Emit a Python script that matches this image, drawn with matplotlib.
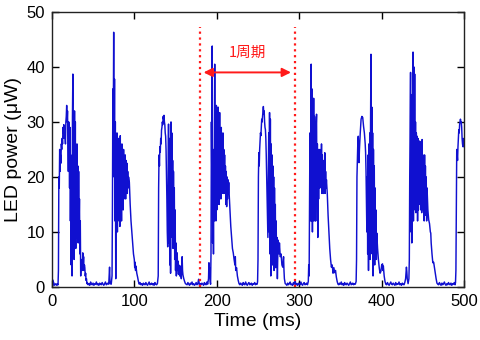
import numpy as np
import matplotlib
matplotlib.use("Agg")
import matplotlib.pyplot as plt

plt.rcParams["font.family"] = ["Liberation Sans", "DejaVu Sans"]

# trace: (time ms, LED power uW)
start_base = [(0, 1.6), (0.5, 0.4), (1, 1.3), (1.5, 0.5), (2, 0.9), (2.5, 0.3), (3, 0.5),
              (4, 0.4), (5, 0.6), (6, 0.3), (7, 0.5), (7.5, 0.4)]

burst1 = [(8, 3), (8.5, 20), (9, 18), (9.5, 25), (10, 21), (10.5, 24), (11, 22.5), (11.5, 26),
          (12, 25), (12.5, 27), (13, 26), (13.5, 29), (14, 28), (14.5, 29.5), (15, 27), (15.5, 28),
          (16, 27.5), (16.5, 26), (17, 30), (17.5, 31), (18, 33), (18.5, 30), (19, 32), (19.5, 26),
          (20, 21), (20.5, 30), (21, 27), (21.5, 18), (22, 29), (22.5, 12), (23, 24), (23.5, 4),
          (24, 20), (24.5, 2), (25, 31), (25.5, 38.7), (26, 14), (26.5, 30), (27, 5), (27.5, 32),
          (28, 12), (28.5, 30), (29, 7), (29.5, 24), (30, 9), (30.5, 26), (31, 14), (31.5, 22),
          (32, 8), (32.5, 21), (33, 11), (33.5, 16), (34, 6), (34.5, 12), (35, 2), (35.5, 5),
          (36, 3.5), (36.5, 4.5), (37, 3), (37.5, 6.2), (38, 4), (38.5, 5.5), (39, 3), (39.5, 4),
          (40, 3.5), (40.5, 2), (41, 2.5), (41.5, 1.2), (42, 1.5), (42.5, 0.6)]

gap1 = [(43, 0.8), (44, 0.4), (45, 0.6), (46, 0.3), (47, 0.9), (48, 0.5), (49, 0.4), (50, 0.7),
        (51, 0.3), (52, 0.6), (53, 0.5), (54, 0.9), (55, 0.4), (56, 0.6), (57, 0.3), (58, 0.7),
        (59, 0.5), (60, 0.4), (61, 0.8), (62, 0.5), (63, 0.3), (64, 0.6), (65, 0.9), (66, 0.4),
        (67, 0.5), (68, 0.7), (69, 0.5), (70, 3.6), (70.5, 1.0), (71, 0.6), (72, 0.5)]

burst2 = [(73, 2), (73.5, 15), (74, 36), (74.5, 28), (75, 46.3), (75.5, 20), (76, 37.8), (76.5, 12),
          (77, 30), (77.5, 1.5), (78, 27), (78.5, 14), (79, 28), (79.5, 10), (80, 26), (80.5, 13),
          (81, 27), (81.5, 12), (82, 25), (82.5, 11), (83, 27.5), (83.5, 13), (84, 24), (84.5, 12),
          (85, 26), (85.5, 15), (86, 23), (86.5, 14), (87, 25), (87.5, 16), (88, 22), (88.5, 17),
          (89, 24), (89.5, 16), (90, 23), (90.5, 18), (91, 22.5), (91.5, 17), (92, 21), (92.5, 18),
          (93, 20), (94, 19), (95, 15), (96, 12), (97, 10), (98, 8), (99, 6), (100, 5), (100.5, 3.5),
          (101, 4.5), (101.5, 3), (102, 3.8), (103, 2.5), (104, 1.8), (105, 1)]

gap2 = [(106, 0.5), (107, 0.8), (108, 0.4), (109, 0.6), (110, 0.3), (111, 0.7), (112, 0.5),
        (113, 0.4), (114, 0.8), (115, 0.5), (116, 0.3), (117, 0.6), (118, 0.9), (119, 0.4),
        (120, 0.5), (121, 0.7), (122, 0.4), (123, 0.6), (124, 0.3), (125, 0.8), (126, 0.5),
        (127, 0.4), (128, 0.6)]

burst3 = [(129, 2), (129.5, 18), (130, 24), (130.5, 22), (131, 25.5), (131.5, 24.5), (132, 27),
          (132.5, 26), (133, 28.5), (133.5, 29), (134, 30), (134.5, 29.5), (135, 31), (135.5, 30.5),
          (136, 31.2), (136.5, 30), (137, 29.5), (137.5, 28), (138, 27.4), (138.5, 25), (139, 21),
          (139.5, 16), (140, 10), (140.5, 7.3), (141, 20), (141.5, 29.6), (142, 8), (142.5, 27),
          (143, 4), (143.5, 22), (144, 2.5), (144.5, 30), (145, 12), (145.5, 28), (146, 9),
          (146.5, 23), (147, 7), (147.5, 21), (148, 11), (148.5, 18), (149, 5), (149.5, 14),
          (150, 3), (150.5, 8), (151, 2), (151.5, 5), (152, 6.2), (152.5, 3), (153, 4.7),
          (153.5, 2.3), (154, 4), (155, 2), (156, 3.8), (157, 1.5), (158, 5.5), (158.5, 3),
          (159, 2.2), (160, 1.5), (161, 1), (162, 0.6)]

gap3 = [(163, 0.5), (164, 0.4), (165, 0.8), (166, 0.5), (167, 0.3), (168, 0.7), (169, 0.5),
        (170, 0.9), (171, 0.4), (172, 0.6), (173, 0.3), (174, 0.5), (175, 0.8), (176, 0.4),
        (177, 0.6), (178, 1.4), (179, 0.3), (180, 0.6), (181, 0.4), (182, 0.7), (183, 0.5),
        (184, 0.3), (185, 0.8), (186, 0.5), (187, 0.4), (188, 0.9), (189, 0.5)]

burst4 = [(190, 1.5), (190.5, 4.4), (191, 2), (191.5, 3.5), (192, 1), (192.5, 0.5), (193, 6),
          (193.5, 30), (194, 20), (194.5, 43.8), (195, 8), (195.5, 20), (196, 6), (196.5, 25),
          (197, 12), (197.5, 40.5), (198, 15), (198.5, 30), (199, 12), (199.5, 33), (200, 14),
          (200.5, 30), (201, 15), (201.5, 32.7), (202, 16), (202.5, 29), (203, 15), (203.5, 31.7),
          (204, 17), (204.5, 28), (205, 16), (205.5, 29), (206, 17), (206.5, 27), (207, 18),
          (207.5, 28), (208, 17), (208.5, 25), (209, 18), (209.5, 24), (210, 17), (210.5, 22),
          (211, 15), (211.5, 21), (212, 14.6), (212.5, 20), (213, 16), (213.5, 19.5), (214, 17),
          (214.5, 19), (215, 17), (216, 14), (217, 11), (218, 9), (219, 7), (220, 6.2), (221, 5),
          (222, 4), (222.5, 5.5), (223, 3), (224, 3.5), (225, 2), (226, 1.2), (227, 0.6)]

gap4 = [(228, 0.4), (229, 0.7), (230, 0.5), (231, 0.3), (232, 0.8), (233, 0.5), (234, 0.4),
        (235, 0.9), (236, 0.5), (237, 0.3), (238, 0.6), (239, 0.8), (240, 0.4), (241, 0.5),
        (242, 0.7), (243, 0.3), (244, 0.6), (245, 0.5), (246, 0.8), (247, 0.4), (248, 0.6),
        (249, 0.5)]

burst5 = [(249.5, 1), (250, 5), (250.5, 20), (251, 24.4), (251.5, 22), (252, 25), (252.5, 26.5),
          (253, 28), (253.5, 27.5), (254, 29), (254.5, 30.5), (255, 30), (255.5, 31), (256, 32),
          (256.5, 32.8), (257, 31.5), (257.5, 32), (258, 30), (258.5, 29), (259, 28.6), (259.5, 27),
          (260, 24), (260.5, 20), (261, 15), (261.5, 12), (262, 9), (262.5, 20), (263, 28),
          (263.5, 10), (264, 31.7), (264.5, 6), (265, 30.5), (265.5, 2), (266, 26), (266.5, 8),
          (267, 24), (267.5, 4), (268, 22), (268.5, 10), (269, 20), (269.5, 3), (270, 18),
          (270.5, 8), (271, 15), (271.5, 3.5), (272, 12), (272.5, 6), (273, 9), (273.5, 1.5),
          (274, 6), (274.5, 8.5), (275, 7), (275.5, 6), (276, 8), (277, 5.5), (278, 6), (279, 4),
          (280, 3.6), (281, 5.5), (281.5, 3), (282, 1.5), (283, 0.6)]

gap5 = [(284, 0.5), (285, 0.3), (286, 0.7), (287, 0.4), (288, 0.6), (289, 0.9), (290, 0.4),
        (291, 0.5), (292, 0.3), (293, 0.8), (294, 0.5), (295, 1.2), (296, 0.4), (297, 0.6),
        (298, 0.3), (299, 0.7), (300, 0.5), (301, 0.4), (302, 0.9), (303, 0.5), (304, 0.3),
        (305, 0.6), (306, 0.8), (307, 0.4), (308, 0.5), (309, 0.7), (310, 0.4), (311, 1)]

burst6 = [(311.5, 4), (312, 2), (312.5, 15), (313, 28), (313.5, 12), (314, 30), (314.5, 40.5),
          (315, 12), (315.5, 36), (316, 10), (316.5, 28), (317, 12), (317.5, 34.3), (318, 13),
          (318.5, 31), (319, 12), (319.5, 30), (320, 12), (320.5, 29), (321, 31.4), (321.5, 15.3),
          (322, 26), (322.5, 9), (323, 25), (323.5, 16), (324, 24.4), (324.5, 18), (325, 25),
          (325.5, 19.5), (326, 24), (326.5, 18), (327, 26), (327.5, 17), (328, 24), (328.5, 19),
          (329, 23), (329.5, 17), (330, 22), (330.5, 18), (331, 24.4), (331.5, 17), (332, 21),
          (332.5, 18), (333, 19.5), (334, 17), (335, 13), (336, 10), (337, 7), (338, 5),
          (339, 3.6), (340, 4), (341, 2.5), (342, 3.5), (343, 2.6), (344, 3), (345, 1.8),
          (346, 1), (347, 0.5)]

gap6 = [(348, 0.4), (349, 0.7), (350, 0.5), (351, 0.9), (352, 0.4), (353, 0.6), (354, 0.3),
        (355, 0.8), (356, 0.5), (357, 0.4), (358, 0.7), (359, 0.5), (360, 0.3), (361, 0.6),
        (362, 0.9), (363, 0.4), (364, 0.5), (365, 0.7), (366, 0.4), (367, 0.6), (368, 0.5),
        (369, 1)]

burst7 = [(369.5, 5), (370, 20), (371, 26), (371.6, 27.4), (372.5, 22.6), (373, 25), (374, 28),
          (375, 30.5), (376, 31), (377, 30.8), (378, 29.2), (379, 28), (380, 26), (380.5, 24.4),
          (381, 21), (381.5, 15), (382, 10), (382.5, 20), (383, 6), (383.5, 24), (384, 3),
          (384.5, 26), (385, 8), (385.5, 28), (386, 5), (386.5, 30), (387, 42.3), (387.5, 10),
          (388, 32.7), (388.5, 6), (389, 28), (389.5, 2), (390, 25), (390.5, 8), (391, 22),
          (391.5, 4), (392, 18), (392.5, 6), (393, 14), (393.5, 5), (394, 9.8), (395, 7),
          (396, 5), (397, 3.5), (398, 2.5), (399, 2.8), (400, 4), (401, 4.2), (401.5, 3),
          (402, 3.8), (403, 2), (404, 1), (405, 0.5)]

gap7 = [(406, 0.4), (407, 0.8), (408, 0.5), (409, 0.3), (410, 0.6), (411, 0.9), (412, 0.5),
        (413, 0.4), (414, 0.7), (415, 0.5), (416, 0.3), (417, 0.8), (418, 0.4), (419, 0.6),
        (420, 0.5), (421, 0.9), (422, 0.4), (423, 0.6), (424, 0.3), (425, 0.7), (426, 0.5),
        (427, 0.4), (428, 0.8), (429, 1.5), (429.5, 2.5), (430, 3.6), (430.5, 2.8), (431, 1.5),
        (432, 0.6)]

burst8 = [(433, 1.5), (433.5, 5), (434, 20), (434.5, 30), (435, 39), (435.5, 10), (436, 33),
          (436.5, 8), (437, 35), (437.5, 14), (438, 42.7), (438.5, 12), (439, 40), (439.5, 15),
          (440, 38.7), (440.5, 14), (441, 30), (441.5, 13.5), (442, 28), (442.5, 15), (443, 27.4),
          (443.5, 12), (444, 27), (444.5, 14), (445, 26.5), (445.5, 16), (446, 26.5), (446.5, 15),
          (447, 26.3), (447.5, 14), (448, 25), (448.5, 13.5), (449, 26.8), (449.5, 15), (450, 24),
          (450.5, 14), (451, 21.4), (451.5, 12), (452, 24), (452.5, 13), (453, 22), (453.5, 14),
          (454, 20), (454.5, 12), (455, 18), (456, 14), (457, 12.2), (458, 11.5), (459, 10),
          (459.5, 9.8), (460, 8), (461, 6), (462, 4.4), (463, 4.5), (464, 3.5), (465, 2.5),
          (466, 1.5), (467, 0.7), (468, 0.5)]

gap8 = [(469, 0.4), (470, 0.8), (471, 0.5), (472, 0.3), (473, 0.7), (474, 0.4), (475, 0.6),
        (476, 0.9), (477, 0.5), (478, 0.3), (479, 0.6), (480, 0.4), (481, 0.8), (482, 0.5),
        (483, 0.4), (484, 0.7), (485, 0.3), (486, 0.6), (487, 0.5), (488, 0.8), (489, 0.4)]

burst9 = [(489.5, 0.8), (490, 3), (490.5, 15), (491, 25), (491.5, 24), (492, 23), (492.5, 25.5),
          (493, 27), (493.5, 28.6), (494, 28), (494.5, 29.5), (495, 30), (495.5, 30.5), (496, 30),
          (496.5, 30), (497, 29), (497.5, 27), (498, 26), (498.5, 25.5), (499, 27), (499.5, 25.5),
          (500, 26)]

period_start = 180
period_end = 295
period_label = "1周期"

trace = np.array(start_base + burst1 + gap1 + burst2 + gap2 + burst3 + gap3 + burst4 + gap4
                 + burst5 + gap5 + burst6 + gap6 + burst7 + gap7 + burst8 + gap8 + burst9)

fig = plt.figure(figsize=(4.8, 3.4), dpi=100)
ax = fig.add_axes([0.108, 0.156, 0.859, 0.809])

ax.plot(trace[:, 0], trace[:, 1], color="#1010d0", lw=1.05)

# period markers
for x in (period_start, period_end):
    ax.plot([x, x], [0, 47.2], color="#ff1a1a", ls=":", lw=1.6)
ax.annotate("", xy=(period_start + 4, 39), xytext=(period_end - 5, 39),
            arrowprops=dict(arrowstyle="<|-|>", color="#ff1a1a", lw=1.4,
                            mutation_scale=13, shrinkA=0, shrinkB=0))
ax.text((period_start + period_end) / 2, 41.2, period_label, color="#ff1a1a",
        ha="center", va="bottom", fontsize=10.5,
        family=["Noto Sans CJK JP", "DejaVu Sans"])

ax.set_xlim(0, 500)
ax.set_ylim(0, 50)
ax.set_xticks(range(0, 501, 100))
ax.set_yticks(range(0, 51, 10))
ax.tick_params(direction="in", top=True, right=True, length=5, width=1,
               labelsize=12, pad=5)
for s in ax.spines.values():
    s.set_color("#222222")
    s.set_linewidth(1)

ax.set_xlabel("Time (ms)", fontsize=14, labelpad=3)
ax.set_ylabel("LED power (μW)", fontsize=14, labelpad=3)

fig.savefig("out.png", dpi=100)
